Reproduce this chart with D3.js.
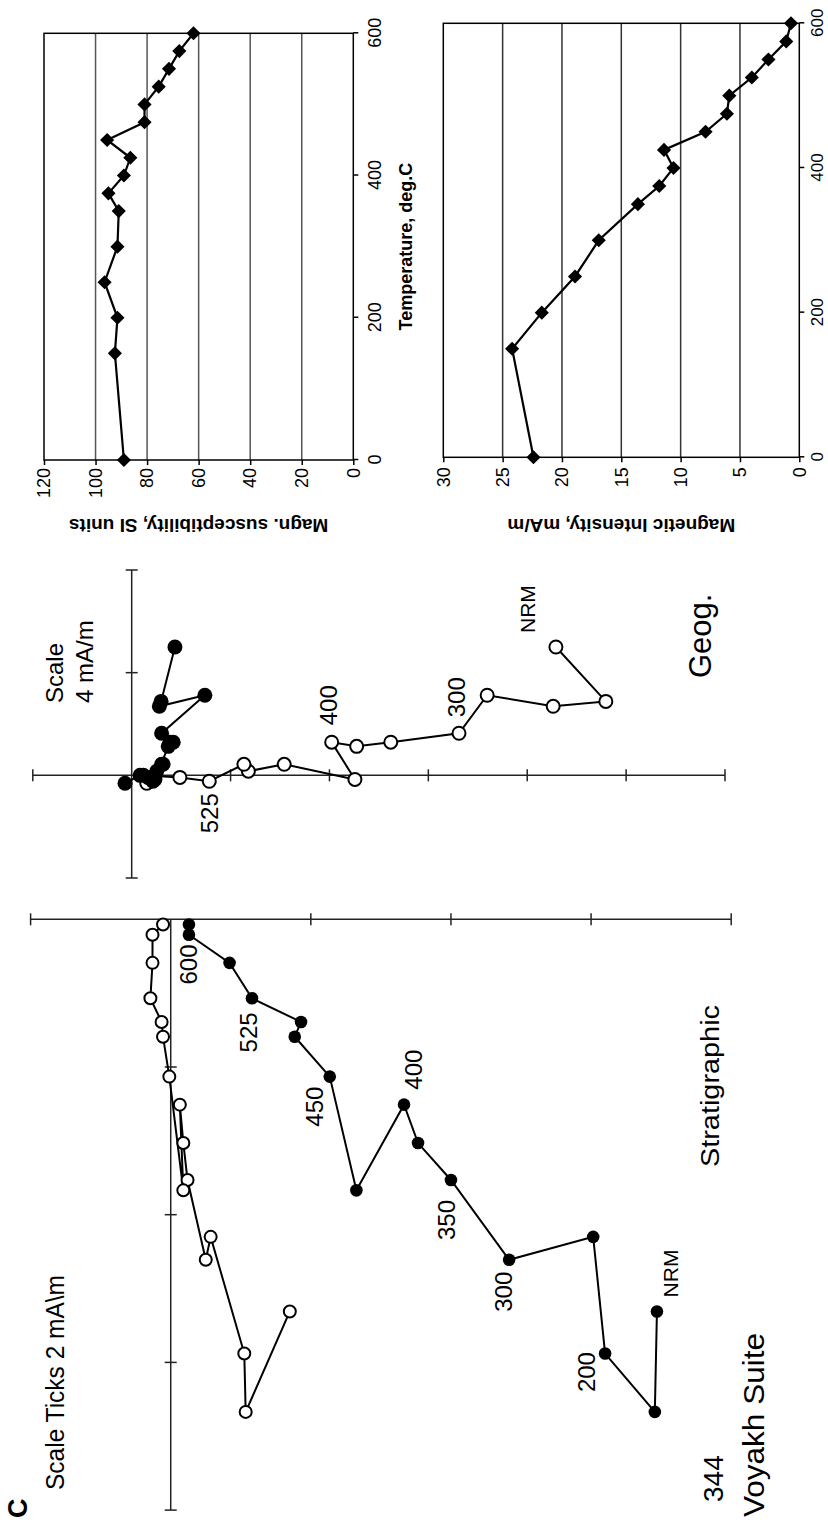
<!DOCTYPE html>
<html>
<head>
<meta charset="utf-8">
<script src="https://cdn.jsdelivr.net/npm/d3@7"></script>
<style>
  body { margin: 0; background: #fff; }
  svg text { font-family: "Liberation Sans", Arial, sans-serif; fill: #000; }
</style>
</head>
<body>
<svg id="fig"></svg>
<script>
// thermal demagnetisation steps, deg.C (NRM = 0)
const temps = [0, 150, 200, 250, 300, 350, 375, 400, 425, 450, 475, 500, 525, 550, 575, 600];
const tempTicks = [0, 200, 400, 600];

// magnetic susceptibility, SI units
const susceptibility = [89, 92.5, 91.5, 96.5, 91.5, 91, 95, 89, 86.5, 95.5, 81, 81, 75.5, 71.5, 67.5, 62];
const suscTicks = [0, 20, 40, 60, 80, 100, 120];

// magnetic intensity, mA/m
const intensity = [22.4, 24.2, 21.7, 18.9, 16.9, 13.6, 11.8, 10.6, 11.4, 7.9, 6.1, 5.9, 4.0, 2.6, 1.1, 0.7];
const intTicks = [0, 5, 10, 15, 20, 25, 30];

// Zijderveld, geographic coordinates (mA/m): shared horizontal component,
// then the two projections on the other axis
const geogH = [5.0, 2.88, 2.69, 3.12, 1.64, 1.29, 1.13, 1.29, -0.16, 0.43, 0.16, 0.43, -0.23, -0.08, 0, -0.31];
const geogOpen = [17.16, 19.18, 17.05, 14.38, 13.24, 10.48, 9.10, 8.09, 9.03, 6.17, 4.72, 4.54, 3.14, 1.95, 0.47, 0.61];
const geogFilled = [1.75, 1.19, 1.12, 2.96, 1.21, 1.68, 1.48, 1.55, 0.94, 1.21, 1.01, 1.27, 0.86, 0.66, 0.34, -0.27];
const geogHTicks = [-4, 4, 8];
const geogVTicks = [-4, 4, 8, 12, 16, 20, 24];

// Zijderveld, stratigraphic coordinates (mA/m)
const stratH = [-5.31, -6.67, -5.88, -4.30, -4.61, -3.53, -3.03, -2.51, -3.67, -2.13, -1.59, -1.39, -1.07, -0.59, -0.21, -0.07];
const stratFilled = [6.94, 6.91, 6.20, 6.03, 4.83, 4.00, 3.53, 3.33, 2.65, 2.27, 1.77, 1.86, 1.16, 0.84, 0.26, 0.26];
const stratOpen = [1.70, 1.07, 1.05, 0.57, 0.50, 0.24, 0.18, 0.13, 0.18, -0.02, -0.11, -0.13, -0.29, -0.26, -0.26, -0.11];
const stratHTicks = [-8, -6, -4, -2];
const stratVTicks = [-2, 2, 4, 6, 8];

const W = 828, H = 1523;
const svg = d3.select('#fig').attr('width', W).attr('height', H);
svg.append('rect').attr('width', W).attr('height', H).attr('fill', '#fff');

// the figure is laid out in landscape and turned a quarter turn to the left
const fig = svg.append('g').attr('transform', `translate(0,${H}) rotate(-90)`);

function lineChart(o) {
  const x = d3.scaleLinear().domain([0, 600]).range(o.xRange);
  const y = d3.scaleLinear().domain([0, o.ticks[o.ticks.length - 1]]).range(o.yRange);
  const g = fig.append('g');
  const top = o.ticks[o.ticks.length - 1];

  g.selectAll('line.grid')
    .data(o.ticks.filter(v => v > 0 && v < top))
    .enter().append('line')
    .attr('class', 'grid')
    .attr('x1', x(0)).attr('x2', x(600))
    .attr('y1', d => y(d)).attr('y2', d => y(d))
    .attr('stroke', o.gridColor).attr('stroke-width', 1.5);

  g.append('rect')
    .attr('x', x(0)).attr('y', y(top))
    .attr('width', x(600) - x(0)).attr('height', y(0) - y(top))
    .attr('fill', 'none').attr('stroke', '#000').attr('stroke-width', 1.5);

  const xa = g.append('g')
    .attr('transform', `translate(0,${y(0)})`)
    .call(d3.axisBottom(x).tickValues(tempTicks).tickSize(5).tickPadding(o.xPad));
  const ya = g.append('g')
    .attr('transform', `translate(${x(0)},0)`)
    .call(d3.axisLeft(y).tickValues(o.ticks).tickSize(5).tickPadding(o.yPad));
  [xa, ya].forEach(a => {
    a.select('.domain').remove();
    a.selectAll('line').attr('stroke', '#000').attr('stroke-width', 1.5);
    a.selectAll('text').attr('font-size', 18).attr('font-family', '"Liberation Sans", Arial, sans-serif');
  });
  xa.selectAll('text').attr('font-size', o.xFont || 18);

  const pts = temps.map((t, i) => [t, o.values[i]]);
  g.append('path')
    .datum(pts)
    .attr('d', d3.line().x(d => x(d[0])).y(d => y(d[1])))
    .attr('fill', 'none').attr('stroke', '#000').attr('stroke-width', 2.2);

  g.selectAll('path.pt')
    .data(pts)
    .enter().append('path')
    .attr('class', 'pt')
    .attr('d', d3.symbol(d3.symbolSquare, 100))
    .attr('transform', d => `translate(${x(d[0])},${y(d[1])}) rotate(45)`)
    .attr('fill', '#000');

  g.append('text')
    .attr('transform', `translate(${o.titleX},${(y(0) + y(top)) / 2}) rotate(-90)`)
    .attr('text-anchor', 'middle')
    .attr('font-size', 19).attr('font-weight', 'bold')
    .text(o.title);

  if (o.xTitle) {
    g.append('text')
      .attr('x', (x(0) + x(600)) / 2).attr('y', y(0) + 59)
      .attr('text-anchor', 'middle')
      .attr('font-size', 18).attr('font-weight', 'bold')
      .text(o.xTitle);
  }
}

lineChart({
  values: susceptibility, ticks: suscTicks,
  xRange: [1063, 1489.7], yRange: [353.3, 44],
  gridColor: '#555', xPad: 10, yPad: 3,
  title: 'Magn. susceptibility, SI units', titleX: 1004,
  xTitle: 'Temperature, deg.C'
});

lineChart({
  values: intensity, ticks: intTicks,
  xRange: [1065.7, 1499.7], yRange: [799.3, 443.3],
  gridColor: '#333', xPad: 7, yPad: 5, xFont: 17,
  title: 'Magnetic Intensity, mA/m', titleX: 1004
});

function zijderveld(o) {
  const x = d3.scaleLinear().domain(o.hDomain).range(o.hRange);
  const y = d3.scaleLinear().domain(o.vDomain).range(o.vRange);
  const g = fig.append('g');
  const axis = { stroke: '#222', width: 1.5 };

  g.append('line')
    .attr('x1', x(o.hDomain[0])).attr('x2', x(o.hDomain[1]))
    .attr('y1', y(0)).attr('y2', y(0))
    .attr('stroke', axis.stroke).attr('stroke-width', axis.width);
  g.append('line')
    .attr('x1', x(0)).attr('x2', x(0))
    .attr('y1', y(o.vDomain[0])).attr('y2', y(o.vDomain[1]))
    .attr('stroke', axis.stroke).attr('stroke-width', axis.width);

  g.selectAll('line.htick').data(o.hTicks).enter().append('line')
    .attr('x1', d => x(d)).attr('x2', d => x(d))
    .attr('y1', y(0) - 6).attr('y2', y(0) + 6)
    .attr('stroke', axis.stroke).attr('stroke-width', axis.width);
  g.selectAll('line.vtick').data(o.vTicks).enter().append('line')
    .attr('y1', d => y(d)).attr('y2', d => y(d))
    .attr('x1', x(0) - 6).attr('x2', x(0) + 6)
    .attr('stroke', axis.stroke).attr('stroke-width', axis.width);

  const line = d3.line().x(d => x(d[0])).y(d => y(d[1]));
  const open = o.h.map((h, i) => [h, o.open[i]]);
  const filled = o.h.map((h, i) => [h, o.filled[i]]);

  g.append('path').datum(open).attr('d', line)
    .attr('fill', 'none').attr('stroke', '#000').attr('stroke-width', 2);
  g.selectAll('circle.open').data(open).enter().append('circle')
    .attr('cx', d => x(d[0])).attr('cy', d => y(d[1])).attr('r', o.rOpen)
    .attr('fill', '#fff').attr('stroke', '#000').attr('stroke-width', 2);

  g.append('path').datum(filled).attr('d', line)
    .attr('fill', 'none').attr('stroke', '#000').attr('stroke-width', 2);
  g.selectAll('circle.filled').data(filled).enter().append('circle')
    .attr('cx', d => x(d[0])).attr('cy', d => y(d[1])).attr('r', o.rFilled)
    .attr('fill', '#000');

  // step labels placed beside their point
  g.selectAll('text.step').data(o.labels).enter().append('text')
    .attr('x', d => x(o.h[temps.indexOf(d.t)]) + d.dx)
    .attr('y', d => y((d.series === 'open' ? o.open : o.filled)[temps.indexOf(d.t)]) + d.dy)
    .attr('text-anchor', d => d.anchor)
    .attr('font-size', d => d.t === 0 ? 21 : 24)
    .text(d => d.t === 0 ? 'NRM' : d.t);
  return g;
}

const geog = zijderveld({
  h: geogH, open: geogOpen, filled: geogFilled,
  hDomain: [-4, 8], hRange: [645, 953],
  vDomain: [-4, 24], vRange: [32.8, 725],
  hTicks: geogHTicks, vTicks: geogVTicks,
  rOpen: 6.5, rFilled: 7.5,
  labels: [
    { t: 0, series: 'open', dx: 14, dy: -21, anchor: 'start' },
    { t: 300, series: 'open', dx: 16, dy: 6, anchor: 'start' },
    { t: 400, series: 'open', dx: 17, dy: 5, anchor: 'start' },
    { t: 525, series: 'open', dx: -12, dy: 9, anchor: 'end' }
  ]
});
geog.append('text').attr('x', 820).attr('y', 63).attr('font-size', 24).text('Scale');
geog.append('text').attr('x', 820).attr('y', 93).attr('font-size', 24).text('4 mA/m');
geog.append('text').attr('x', 845).attr('y', 711).attr('font-size', 31).text('Geog.');

const strat = zijderveld({
  h: stratH, open: stratOpen, filled: stratFilled,
  hDomain: [-8, 0], hRange: [12.9, 603.7],
  vDomain: [-2, 8], vRange: [30.6, 731.2],
  hTicks: stratHTicks, vTicks: stratVTicks,
  rOpen: 6, rFilled: 6.3,
  labels: [
    { t: 0, series: 'filled', dx: 14, dy: 21, anchor: 'start' },
    { t: 200, series: 'filled', dx: 1.5, dy: -10, anchor: 'end' },
    { t: 300, series: 'filled', dx: -12, dy: 3, anchor: 'end' },
    { t: 350, series: 'filled', dx: -20, dy: 4, anchor: 'end' },
    { t: 400, series: 'filled', dx: 15, dy: 18, anchor: 'start' },
    { t: 450, series: 'filled', dx: -10, dy: -7, anchor: 'end' },
    { t: 525, series: 'filled', dx: -14, dy: 5, anchor: 'end' },
    { t: 600, series: 'filled', dx: -20, dy: 8, anchor: 'end' }
  ]
});
strat.append('text').attr('x', 356).attr('y', 719).attr('font-size', 25)
  .attr('textLength', 162).attr('lengthAdjust', 'spacingAndGlyphs').text('Stratigraphic');
strat.append('text').attr('x', 21).attr('y', 723).attr('font-size', 28).text('344');
strat.append('text').attr('x', 6).attr('y', 764).attr('font-size', 29)
  .attr('textLength', 184).attr('lengthAdjust', 'spacingAndGlyphs').text('Voyakh Suite');
strat.append('text').attr('x', 33).attr('y', 64).attr('font-size', 25)
  .attr('textLength', 215).attr('lengthAdjust', 'spacingAndGlyphs').text('Scale Ticks 2 mA\\m');
fig.append('text').attr('x', 5).attr('y', 27).attr('font-size', 27).attr('font-weight', 'bold').text('C');
</script>
</body>
</html>
